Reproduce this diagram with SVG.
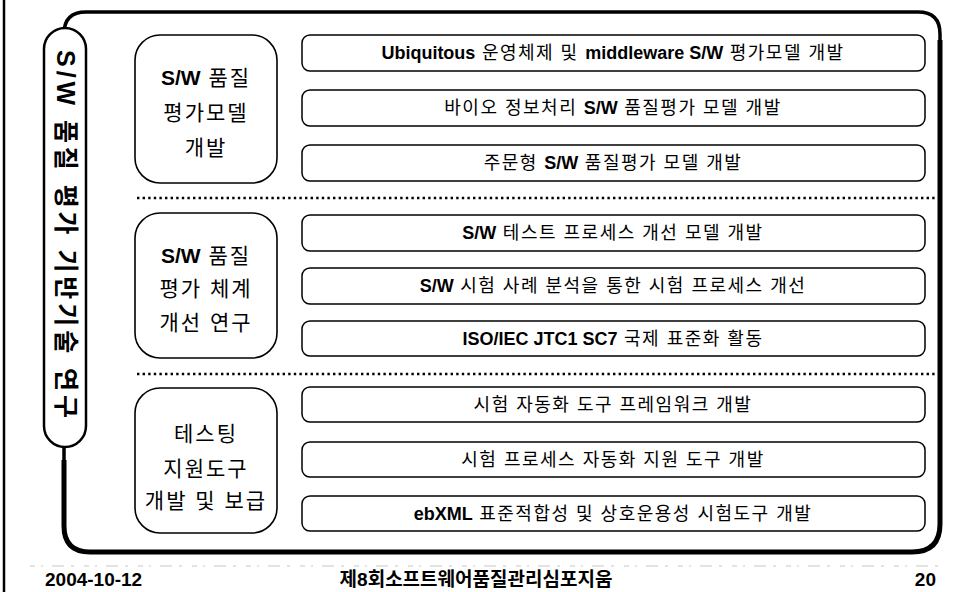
<svg xmlns="http://www.w3.org/2000/svg" width="959" height="592" viewBox="0 0 959 592">
<style>
.bg{fill:#fff}
.frame{fill:none;stroke:#000;stroke-width:3.5}
.frame2{fill:none;stroke:#000;stroke-width:5}
.pill{fill:#fff;stroke:#000;stroke-width:2.5}
.lbox{fill:#fff;stroke:#000;stroke-width:1.6}
.rbox{fill:#fff;stroke:#000;stroke-width:1.5}
.dots{stroke:#000;stroke-width:2.4;stroke-dasharray:2.4 3.2;fill:none}
.t{font-family:"Liberation Sans","Noto Sans CJK KR",sans-serif;fill:#000}
.lt{font-size:21px;text-anchor:middle;letter-spacing:2px}
.rt{font-size:18px;text-anchor:middle;letter-spacing:1.5px}
.b{font-weight:bold;letter-spacing:0}
.ft{font-size:19px;font-weight:bold}
</style>
<rect class="bg" x="0" y="0" width="959" height="592"/>
<line x1="4" y1="0" x2="4" y2="592" stroke="#000" stroke-width="2.5"/>
<path class="frame" d="M64 34 Q64 12 86 12 L918 12 Q940 12 940 34 L940 524 Q940 552 912 552 L90 552 Q64 552 64 526 Z"/>
<path class="frame2" d="M940 40 L940 524 Q940 552 912 552 L90 552 Q64 552 64 526 L64 460"/>
<g id="side">
<rect class="pill" x="44" y="28" width="42" height="419" rx="21"/>
<text class="t" font-size="25" font-weight="bold" text-anchor="middle" dominant-baseline="central" transform="translate(66,234) rotate(90)" textLength="368" lengthAdjust="spacing">S/W 품질 평가 기반기술 연구</text>
</g>
<g id="connectors">
<line class="dots" x1="137" y1="198" x2="937" y2="198"/>
<line class="dots" x1="137" y1="374" x2="937" y2="374"/>
</g>
<g id="g1">
<rect class="lbox" x="135" y="35" width="142" height="148" rx="25"/>
<text class="t lt" x="206" y="85"><tspan class="b">S/W</tspan> 품질</text>
<text class="t lt" x="206" y="120">평가모델</text>
<text class="t lt" x="206" y="155">개발</text>
</g>
<g id="g2">
<rect class="lbox" x="135" y="213" width="142" height="145" rx="25"/>
<text class="t lt" x="206" y="263"><tspan class="b">S/W</tspan> 품질</text>
<text class="t lt" x="206" y="296">평가 체계</text>
<text class="t lt" x="206" y="330">개선 연구</text>
</g>
<g id="g3">
<rect class="lbox" x="135" y="388" width="142" height="145" rx="25"/>
<text class="t lt" x="206" y="441">테스팅</text>
<text class="t lt" x="206" y="476">지원도구</text>
<text class="t lt" x="206" y="508">개발 및 보급</text>
</g>
<g id="r1">
<rect class="rbox" x="302" y="35" width="623" height="36" rx="8"/>
<text class="t rt" x="613" y="59"><tspan class="b">Ubiquitous</tspan> 운영체제 및 <tspan class="b">middleware S/W</tspan> 평가모델 개발</text>
</g>
<g id="r2">
<rect class="rbox" x="302" y="90" width="623" height="36" rx="8"/>
<text class="t rt" x="613" y="114">바이오 정보처리 <tspan class="b">S/W</tspan> 품질평가 모델 개발</text>
</g>
<g id="r3">
<rect class="rbox" x="302" y="145" width="623" height="36" rx="8"/>
<text class="t rt" x="613" y="169">주문형 <tspan class="b">S/W</tspan> 품질평가 모델 개발</text>
</g>
<g id="r4">
<rect class="rbox" x="302" y="215" width="623" height="36" rx="8"/>
<text class="t rt" x="613" y="239"><tspan class="b">S/W</tspan> 테스트 프로세스 개선 모델 개발</text>
</g>
<g id="r5">
<rect class="rbox" x="302" y="268" width="623" height="36" rx="8"/>
<text class="t rt" x="613" y="292"><tspan class="b">S/W</tspan> 시험 사례 분석을 통한 시험 프로세스 개선</text>
</g>
<g id="r6">
<rect class="rbox" x="302" y="321" width="623" height="35" rx="8"/>
<text class="t rt" x="613" y="345"><tspan class="b">ISO/IEC JTC1 SC7</tspan> 국제 표준화 활동</text>
</g>
<g id="r7">
<rect class="rbox" x="302" y="387" width="623" height="35" rx="8"/>
<text class="t rt" x="613" y="411">시험 자동화 도구 프레임워크 개발</text>
</g>
<g id="r8">
<rect class="rbox" x="302" y="442" width="623" height="35" rx="8"/>
<text class="t rt" x="613" y="466">시험 프로세스 자동화 지원 도구 개발</text>
</g>
<g id="r9">
<rect class="rbox" x="302" y="496" width="623" height="35" rx="8"/>
<text class="t rt" x="613" y="520"><tspan class="b">ebXML</tspan> 표준적합성 및 상호운용성 시험도구 개발</text>
</g>
<g id="footer">
<line x1="30" y1="566" x2="945" y2="566" stroke="#c8c8c8" stroke-width="1" stroke-dasharray="5 6 2 9 12 7 3 10"/>
<text class="t ft" x="45" y="586">2004-10-12</text>
<text class="t ft" x="476" y="586" text-anchor="middle">제8회소프트웨어품질관리심포지움</text>
<text class="t ft" x="936" y="586" text-anchor="end">20</text>
</g>
</svg>
